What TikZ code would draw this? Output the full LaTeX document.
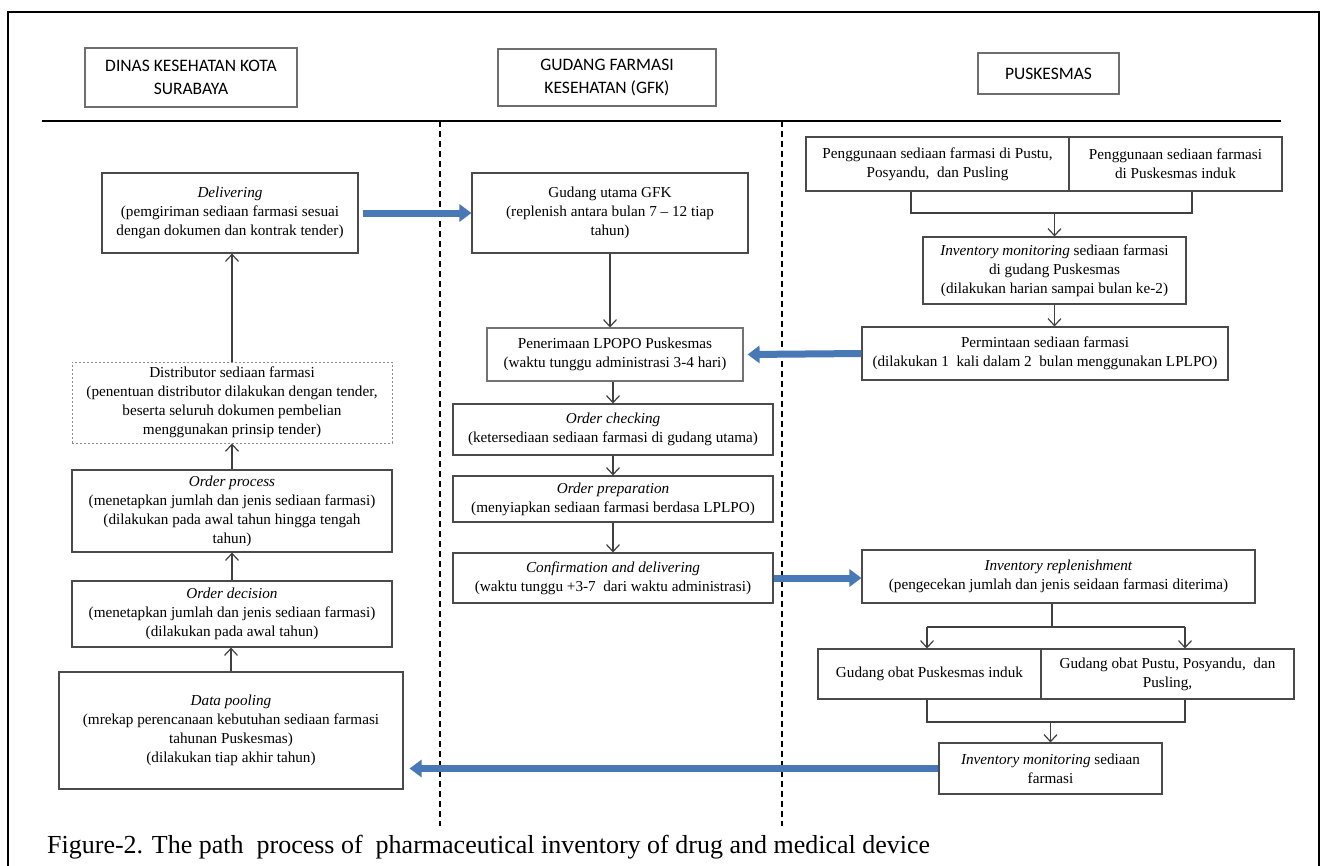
\documentclass[tikz,border=0pt]{standalone}
\usepackage{fontspec}
\setmainfont{Liberation Serif}
\newfontfamily\hdrfont{Carlito}
\usetikzlibrary{arrows.meta,calc}
\definecolor{boxgray}{HTML}{4A4A4A}
\definecolor{hdrgray}{HTML}{6E6E6E}
\definecolor{blueA}{HTML}{4878B5}
\tikzset{
  wh/.style 2 args={minimum width=#1pt, minimum height=#2pt},
  box/.style={draw=boxgray, line width=1.1pt, align=center, inner sep=1pt,
    font=\fontsize{15.2}{19}\selectfont},
  dbox/.style={box, draw=black!45, dash pattern=on 2pt off 2pt, line width=0.9pt},
  hdr/.style={draw=hdrgray, line width=1.1pt, align=center, inner sep=1pt,
    font=\hdrfont\fontsize{17.5}{23}\selectfont},
  thin/.style={draw=black!75, line width=1.2pt, -{Straight Barb[length=7pt,width=13pt]}},
  plain/.style={draw=black!75, line width=1.2pt},
  bluearrow/.style={draw=blueA, line width=7pt, -{Triangle[length=12pt,width=17pt]}},
  divider/.style={draw=black, line width=1.6pt, dash pattern=on 6pt off 4pt},
}
\begin{document}
\begin{tikzpicture}[x=1pt, y=-1pt]
\useasboundingbox (0,0) rectangle (1321,865);
% frame
\draw[line width=2pt] (8,12) rectangle (1319,885);
% headers
\node[hdr, wh={212}{59}] (hdin) at (191,77.5) {DINAS KESEHATAN KOTA\\SURABAYA};
\node[hdr, wh={218}{57}] (hgfk) at (607,77.5) {GUDANG FARMASI\\KESEHATAN (GFK)};
\node[hdr, wh={141}{41}] (hpus) at (1048.5,73.5) {PUSKESMAS};
\coordinate (hl1) at (42,121);
\coordinate (hl2) at (1281,121);
\draw[line width=2.4pt] (hl1) -- (hl2);
\coordinate (d1t) at (440,121); \coordinate (d1b) at (440,826);
\coordinate (d2t) at (782,121); \coordinate (d2b) at (782,826);
\draw[divider] (d1t) -- (d1b);
\draw[divider] (d2t) -- (d2b);

% left column
\node[box, wh={256}{80}] (deliv) at (230,213) {\textit{Delivering}\\(pemgiriman sediaan farmasi sesuai\\dengan dokumen dan kontrak tender)};
\node[dbox, wh={320}{81}] (distr) at (232,402.5) {Distributor sediaan farmasi\\(penentuan distributor dilakukan dengan tender,\\beserta seluruh dokumen pembelian\\menggunakan prinsip tender)};
\node[box, wh={320}{82}] (oproc) at (232,511) {\textit{Order process}\\(menetapkan jumlah dan jenis sediaan farmasi)\\(dilakukan pada awal tahun hingga tengah\\tahun)};
\node[box, wh={320}{66}] (odec) at (232,614) {\textit{Order decision}\\(menetapkan jumlah dan jenis sediaan farmasi)\\(dilakukan pada awal tahun)};
\node[box, wh={344}{117}] (pool) at (231,730.5) {\textit{Data pooling}\\(mrekap perencanaan kebutuhan sediaan farmasi\\tahunan Puskesmas)\\(dilakukan tiap akhir tahun)};
\draw[thin] (pool.north) -- (pool.north |- odec.south);
\draw[thin] (odec.north) -- (oproc.south);
\draw[thin] (oproc.north) -- (distr.south);
\draw[thin] (distr.north) -- (distr.north |- deliv.south);

% middle column
\node[box, wh={276}{80}] (gud) at (610,213) {Gudang utama GFK\\(replenish antara bulan 7 -- 12 tiap\\tahun)};
\node[box, draw=black!55, wh={256}{53}] (pener) at (615,354.5) {Penerimaan LPOPO Puskesmas\\(waktu tunggu administrasi 3-4 hari)};
\node[box, wh={320}{51}] (ocheck) at (613,429.5) {\textit{Order checking}\\(ketersediaan sediaan farmasi di gudang utama)};
\node[box, wh={320}{46}] (oprep) at (613,499) {\textit{Order preparation}\\(menyiapkan sediaan farmasi berdasa LPLPO)};
\node[box, wh={320}{50}] (conf) at (613,578) {\textit{Confirmation and delivering}\\(waktu tunggu +3-7\ \ dari waktu administrasi)};
\draw[thin] (gud.south) -- (gud.south |- pener.north);
\draw[thin] (ocheck.north |- pener.south) -- (ocheck.north);
\draw[thin] (ocheck.south) -- (oprep.north);
\draw[thin] (oprep.south) -- (conf.north);

% right column
\node[box, wh={263}{54}] (use1) at (937.5,164) {Penggunaan sediaan farmasi di Pustu,\\Posyandu,\ \ dan Pusling};
\node[box, wh={213}{54}] (use2) at (1175.5,164) {Penggunaan sediaan farmasi\\di Puskesmas induk};
\node[box, wh={263}{67}] (invmon) at (1054.5,270.5) {\textit{Inventory monitoring} sediaan farmasi\\di gudang Puskesmas\\(dilakukan harian sampai bulan ke-2)};
\node[box, wh={366}{53}] (perm) at (1045,353.5) {Permintaan sediaan farmasi\\(dilakukan 1\ \ kali dalam 2\ \ bulan menggunakan LPLPO)};
\node[box, wh={393}{53}] (repl) at (1058.5,576.5) {\textit{Inventory replenishment}\\(pengecekan jumlah dan jenis seidaan farmasi diterima)};
\node[box, wh={223}{50}] (gob1) at (929.5,674) {Gudang obat Puskesmas induk};
\node[box, wh={253}{50}] (gob2) at (1167.5,674) {Gudang obat Pustu, Posyandu,\ \ dan\\Pusling,};
\node[box, wh={223}{51}] (invmon2) at (1050.5,768.5) {\textit{Inventory monitoring} sediaan\\farmasi};

% bracket 1
\coordinate (b1a) at (911,213);
\coordinate (b1b) at (1192,213);
\draw[plain] (b1a |- use1.south) -- (b1a) -- (b1b) -- (b1b |- use2.south);
\draw[thin] (invmon.north |- b1a) -- (invmon.north);
\draw[thin] (invmon.south) -- (invmon.south |- perm.north);
% bracket 2
\coordinate (b2m) at (1052,627);
\coordinate (b2a) at (927,627);
\coordinate (b2b) at (1185,627);
\draw[plain] (b2m |- repl.south) -- (b2m);
\draw[plain] (b2a) -- (b2b);
\draw[thin] (b2a) -- (b2a |- gob1.north);
\draw[thin] (b2b) -- (b2b |- gob2.north);
% bracket 3
\coordinate (b3a) at (927,722);
\coordinate (b3b) at (1185,722);
\draw[plain] (b3a |- gob1.south) -- (b3a) -- (b3b) -- (b3b |- gob2.south);
\draw[thin] (invmon2.north |- b3a) -- (invmon2.north);

% blue arrows
\draw[bluearrow] ([xshift=4pt]deliv.east) -- (gud.west);
\draw[bluearrow] (perm.west) -- ([xshift=4pt]pener.east);
\draw[bluearrow] (conf.east) -- (conf.east -| repl.west);
\draw[bluearrow] (invmon2.west) -- ([xshift=6pt]invmon2.west -| pool.east);

% caption
\node[anchor=base west, inner sep=0pt, font=\fontsize{26}{30}\selectfont] (cap) at (47,853) {Figure-2. The path\ \ process of\ \ pharmaceutical inventory of drug and medical device};
\end{tikzpicture}
\end{document}
